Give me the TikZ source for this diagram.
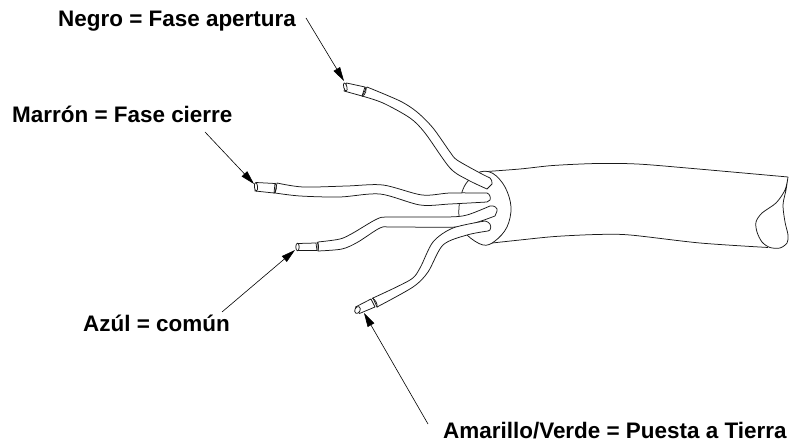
\documentclass[tikz,border=0pt]{standalone}
\usepackage{fontspec}
\setmainfont{Liberation Sans}
\usetikzlibrary{arrows.meta}
\tikzset{
  x=1pt,y=-1pt,
  lbl/.style={font=\fontsize{22.45}{26}\selectfont\bfseries,anchor=base west,inner sep=0pt,text=black},
  ptr/.style={line width=0.6pt,draw=black,-{Triangle[length=14pt,width=7.5pt]}},
  ln/.style={line width=0.75pt,draw=black!90,line join=round},
  wire/.style={ln,fill=white},
  smth/.style={smooth,tension=0.5}
}
\begin{document}
\begin{tikzpicture}
\useasboundingbox (0,0) rectangle (790,443);
% outer sheath
\draw[ln] plot[smth] coordinates {(480,172) (520,169) (553,165.5) (597,163.5) (637,164) (687,168) (788,177)};
\draw[ln] plot[smth] coordinates {(483,244) (520,240) (555,236.5) (597,234.5) (630,235) (700,243) (768,247.5)};
\draw[ln] plot[smth] coordinates {(788,177) (785,190) (776,203) (762,213) (756,222) (757,232) (762,242) (770,247.5) (780,248) (787,243) (788,235) (785,222) (783,205) (786,190) (788,177)};
% flange
\draw[wire] plot[smooth cycle,tension=0.6] coordinates {(480,172) (493,173.5) (505,187) (511,207) (507,227) (495,241) (483,245) (467,235) (460,222) (459,207) (462,192) (468,181)};
% black wire
\draw[wire] plot[smth] coordinates {(367,87) (400,101) (417,112) (433,128) (450,152) (457,160) (480,173) (490,178)}
  .. controls (492,179) and (492,182) .. (492,184) -- (487,189)
  -- plot[smth] coordinates {(487,189) (468,180) (450,168) (425,133) (410,118) (383,103) (362,96)} -- cycle;
\draw[wire] (346.5,83) -- (365,87) -- (362,96) -- (344,91) -- cycle;
\draw[ln,fill=white,rotate around={15:(345.3,87)}] (345.3,87) ellipse [x radius=1.6pt,y radius=4.2pt];
\draw[ln] (365,87) .. controls (367,90) and (366,94) .. (362,96.5);
% brown wire
\draw[wire] plot[smth] coordinates {(277,183) (303,187) (347,186) (383,185) (422,195) (450,193) (487,193)}
  .. controls (490,194) and (491,198) .. (490,200) -- (487,202)
  -- plot[smth] coordinates {(487,202) (450,204) (420,205) (380,194) (340,197) (300,196) (275,193)} -- cycle;
\draw[wire] (256,182.5) -- (275,183.5) -- (274,193) -- (255,191) -- cycle;
\draw[ln,fill=white,rotate around={5:(256,186.8)}] (256,186.8) ellipse [x radius=1.6pt,y radius=4.2pt];
\draw[ln] (275,183) .. controls (277,186) and (277,190) .. (274,193.5);
% blue wire
\draw[wire] plot[smth] coordinates {(318,242) (340,239) (353,233) (377,219) (390,217) (447,217) (467,215) (490,206)}
  .. controls (494,205) and (498,208) .. (497,211) -- (495,216)
  -- plot[smth] coordinates {(495,216) (478,222) (457,227) (393,227) (380,228) (358,242) (342,249) (318,251)} -- cycle;
\draw[wire] (298,243.5) -- (316,243) -- (317,250.5) -- (298,250.5) -- cycle;
\draw[ln,fill=white] (297.5,247) ellipse [x radius=1.7pt,y radius=3.8pt];
\draw[ln] (317,242) .. controls (319,245) and (319,248) .. (318,251);
% yellow/green wire
\draw[wire] plot[smth] coordinates {(373,298) (410,280) (420,268) (433,242) (453,228) (485,221)}
  .. controls (490,222) and (492,226) .. (490,230)
  -- plot[smth] coordinates {(488,231) (467,235) (443,245) (428,272) (413,287) (377,307)} -- cycle;
\draw[wire] (355.5,307) -- (371,299) -- (375,307) -- (359.5,313.5) -- cycle;
\draw[ln,fill=white,rotate around={-27:(357.5,310)}] (357.5,310) ellipse [x radius=2.6pt,y radius=3.6pt];
\draw[ln] (372,298) .. controls (375,299) and (378,304) .. (377,307.5);
% labels
\node[lbl] (negro) at (58,26.3) {Negro = Fase apertura};
\node[lbl] (marron) at (12,122.3) {Marrón = Fase cierre};
\node[lbl] (azul) at (83,331.3) {Azúl = común};
\node[lbl] (amarillo) at (443,438.3) {Amarillo/Verde = Puesta a Tierra};
% pointers
\coordinate (a1) at (306,18); \coordinate (a2) at (344,81);
\coordinate (b1) at (205,132); \coordinate (b2) at (254,184);
\coordinate (c1) at (222,312); \coordinate (c2) at (295,250);
\coordinate (d1) at (428,424); \coordinate (d2) at (364,313);
\draw[ptr] (a1) -- (a2);
\draw[ptr] (b1) -- (b2);
\draw[ptr] (c1) -- (c2);
\draw[ptr] (d1) -- (d2);
\end{tikzpicture}
\end{document}
